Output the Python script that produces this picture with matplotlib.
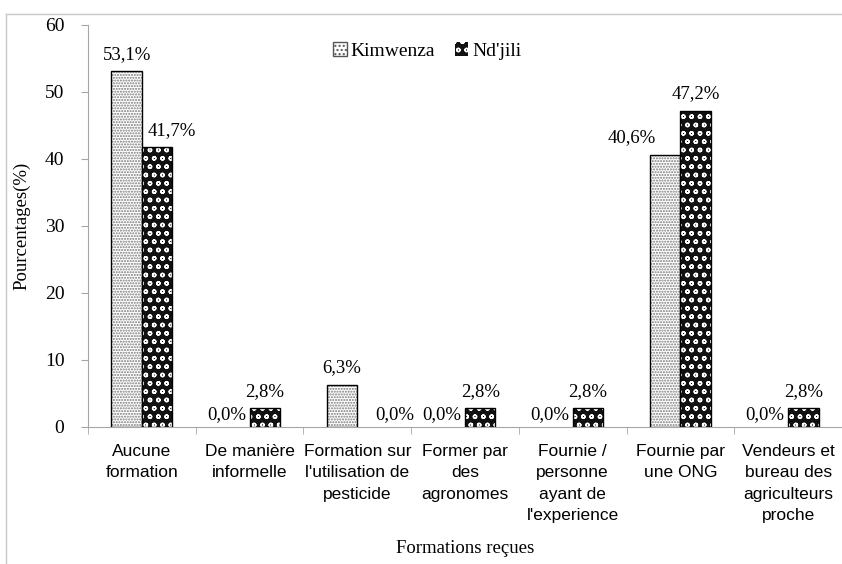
import matplotlib.pyplot as plt
import numpy as np
from matplotlib.patches import Patch
from matplotlib.lines import Line2D

categories = ['Aucune\nformation', 'De manière\ninformelle',
              "Formation sur\nl'utilisation de\npesticide", 'Former par\ndes\nagronomes',
              "Fournie /\npersonne\nayant de\nl'experience", 'Fournie par\nune ONG',
              'Vendeurs et\nbureau des\nagriculteurs\nproche']
kimwenza = [53.1, 0.0, 6.3, 0.0, 0.0, 40.6, 0.0]
ndjili = [41.7, 2.8, 0.0, 2.8, 2.8, 47.2, 2.8]
series_names = ['Kimwenza', "Nd'jili"]

serif = ['Liberation Serif', 'DejaVu Serif']
sans = ['Liberation Sans', 'DejaVu Sans']

fig = plt.figure(figsize=(8.42, 5.64), dpi=100)
ax = fig.add_axes([0.1045, 0.243, 0.8955, 0.713])

x = np.arange(len(categories))
w = 0.283
axis_col = '#a6a6a6'

def outline(vals):
    return ['black' if v > 0 else 'none' for v in vals]

# bars: fill + hatch first, then black outline on top
ax.bar(x - w / 2, kimwenza, w, color='white', edgecolor='#7a7a7a', hatch='......', lw=0)
ax.bar(x - w / 2, kimwenza, w, fill=False, edgecolor=outline(kimwenza), lw=1.0)
ax.bar(x + w / 2, ndjili, w, color='#111111', edgecolor='white', hatch='oo', lw=0)
ax.bar(x + w / 2, ndjili, w, fill=False, edgecolor=outline(ndjili), lw=1.0)

# value labels (a few were moved by hand in the original, shifts in pixels)
k_shift = {5: -33}
n_shift = {0: 15, 2: 22}
px = 0.72
for i, v in enumerate(kimwenza):
    dx = k_shift.get(i, -8 if v == 0 else 0)
    dy = 3 if v == 0 else 6
    ax.annotate(f'{v:.1f}%'.replace('.', ','), (x[i] - w / 2, v), xytext=(dx * px, dy),
                textcoords='offset points', ha='center', va='bottom', fontsize=13.5, family=serif)
for i, v in enumerate(ndjili):
    dx = n_shift.get(i, 0)
    dy = 3 if v == 0 else 6
    ax.annotate(f'{v:.1f}%'.replace('.', ','), (x[i] + w / 2, v), xytext=(dx * px, dy),
                textcoords='offset points', ha='center', va='bottom', fontsize=13.5, family=serif)

ax.set_xlim(-0.5, len(categories) - 0.5)
ax.set_ylim(0, 60)
ax.set_yticks(range(0, 61, 10))
ax.set_xticks(x)
ax.set_xticklabels(categories, fontsize=12.5, family=sans, linespacing=1.55)
ax.set_xticks(np.arange(-0.5, len(categories), 1), minor=True)
ax.tick_params(axis='x', which='major', length=0, pad=12)
ax.tick_params(axis='x', which='minor', length=5, color=axis_col)
ax.tick_params(axis='y', length=5, color=axis_col, labelsize=14, pad=12)
for lab in ax.get_yticklabels():
    lab.set_family(serif)

for s in ['top', 'right']:
    ax.spines[s].set_visible(False)
for s in ['left', 'bottom']:
    ax.spines[s].set_color(axis_col)

ax.set_ylabel('Pourcentages(%)', fontsize=13.5, family=serif, labelpad=10)
ax.set_xlabel('Formations reçues', fontsize=13.5, family=serif, labelpad=12)

handles = [Patch(facecolor='white', edgecolor='#555555', hatch='....', lw=1),
           Patch(facecolor='#111111', edgecolor='white', hatch='oo', lw=0)]
ax.legend(handles, series_names, loc='upper center', bbox_to_anchor=(0.45, 1.0),
          ncol=2, frameon=False, handlelength=0.7, handleheight=0.7,
          handletextpad=0.2, columnspacing=1.0, prop={'family': serif, 'size': 14})

# frame of the original figure box
fig.add_artist(Line2D([6 / 842, 6 / 842], [0, 1 - 14 / 564], transform=fig.transFigure,
                      color='#c8c8c8', lw=1))
fig.add_artist(Line2D([6 / 842, 1], [1 - 14 / 564, 1 - 14 / 564], transform=fig.transFigure,
                      color='#c8c8c8', lw=1))

fig.savefig('out.png', dpi=100)
